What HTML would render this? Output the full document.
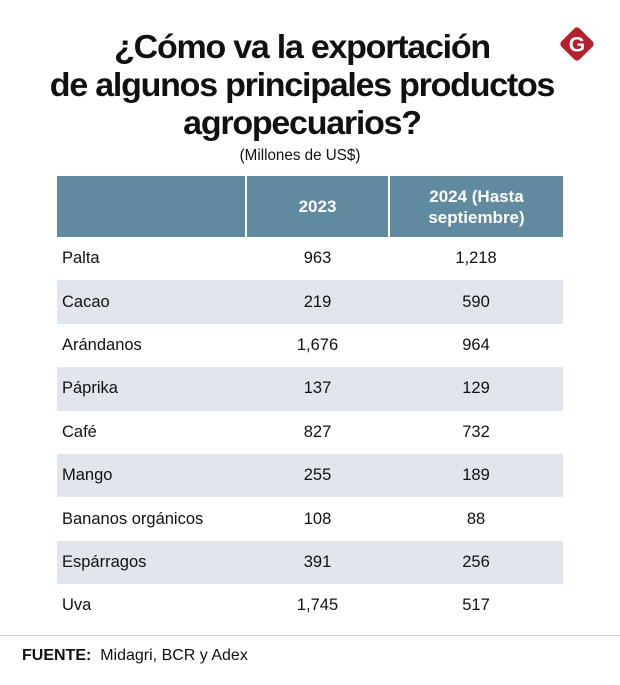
<!DOCTYPE html>
<html><head><meta charset="utf-8"><style>
body{margin:0;width:620px;height:685px;background:#fff;font-family:"Liberation Sans",sans-serif;position:relative;overflow:hidden;color:#111}
.t{position:absolute;left:0;width:604px;text-align:center;font-weight:bold;font-size:33px;line-height:38px;transform:scaleX(1.03);transform-origin:302px 0;letter-spacing:-1.2px}
.sub{position:absolute;left:0;width:600px;top:147px;text-align:center;font-size:16px;transform:scaleX(0.95);transform-origin:300px 0}
table{position:absolute;left:57px;top:176px;width:506px;border-collapse:collapse}
th{background:#5f8aa0;color:#fff;height:61px;font-size:17px;line-height:21px;padding:0;border-left:2px solid #fff}
th:first-child{border-left:none}
td{height:43.4px;padding:0;font-size:16.5px}
tr.g td{background:#e1e6ec}
td.l{padding-left:5px}
td.n{text-align:center}
</style></head><body>
<div class="t" style="top:28px">¿Cómo va la exportación<br>de algunos principales productos<br>agropecuarios?</div>
<div class="sub">(Millones de US$)</div>
<svg style="position:absolute;left:555px;top:22px" width="44" height="44" viewBox="0 0 48 48"><rect x="10" y="10" width="28" height="28" rx="4" transform="rotate(45 24 24)" fill="#b5202e"/><text x="24" y="32" text-anchor="middle" font-family="Liberation Sans" font-weight="bold" font-size="23" fill="#fff">G</text></svg>
<table>
<colgroup><col style="width:189px"><col style="width:143px"><col style="width:174px"></colgroup>
<tr><th></th><th>2023</th><th>2024 (Hasta<br>septiembre)</th></tr>
<tr><td class="l">Palta</td><td class="n">963</td><td class="n">1,218</td></tr>
<tr class="g"><td class="l">Cacao</td><td class="n">219</td><td class="n">590</td></tr>
<tr><td class="l">Arándanos</td><td class="n">1,676</td><td class="n">964</td></tr>
<tr class="g"><td class="l">Páprika</td><td class="n">137</td><td class="n">129</td></tr>
<tr><td class="l">Café</td><td class="n">827</td><td class="n">732</td></tr>
<tr class="g"><td class="l">Mango</td><td class="n">255</td><td class="n">189</td></tr>
<tr><td class="l">Bananos orgánicos</td><td class="n">108</td><td class="n">88</td></tr>
<tr class="g"><td class="l">Espárragos</td><td class="n">391</td><td class="n">256</td></tr>
<tr><td class="l">Uva</td><td class="n">1,745</td><td class="n">517</td></tr>
</table>
<div style="position:absolute;left:0;top:635px;width:620px;height:1px;background:#ccc"></div>
<div style="position:absolute;left:22px;top:647px;font-size:16px"><b>FUENTE:</b>&nbsp; Midagri, BCR y Adex</div>
</body></html>
